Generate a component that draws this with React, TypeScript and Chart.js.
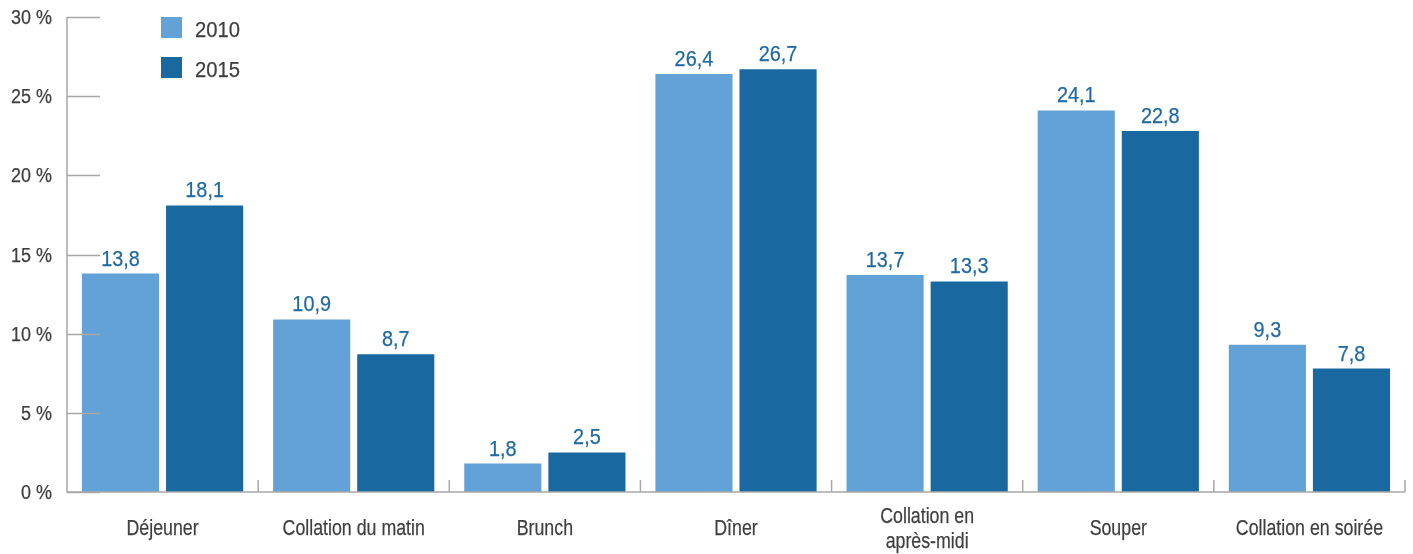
import React, { useEffect, useRef } from "react";
import { Chart, registerables } from "chart.js";

Chart.register(...registerables);

const categories: (string | string[])[] = [
  "Déjeuner",
  "Collation du matin",
  "Brunch",
  "Dîner",
  ["Collation en", "après-midi"],
  "Souper",
  "Collation en soirée",
];
const values2010 = [13.8, 10.9, 1.8, 26.4, 13.7, 24.1, 9.3];
const values2015 = [18.1, 8.7, 2.5, 26.7, 13.3, 22.8, 7.8];
const seriesLabels = ["2010", "2015"];
const yTicks = [0, 5, 10, 15, 20, 25, 30];

const COLOR_2010 = "#63a2d6";
const COLOR_2015 = "#1a68a0";
const AXIS = "#a8a8a8";
const TEXT = "#3f3f3f";
const LABEL_BLUE = "#1f6aa2";
const FONT = "'Liberation Sans', Arial, sans-serif";

function drawText(ctx: any, text: string, x: number, y: number, size: number, sx: number, align: string) {
  ctx.save();
  ctx.font = size + "px " + FONT;
  ctx.textAlign = align;
  ctx.translate(x, y);
  ctx.scale(sx, 1);
  ctx.strokeStyle = ctx.fillStyle;
  ctx.lineWidth = 0.25;
  ctx.lineJoin = "round";
  ctx.fillText(text, 0, 0);
  ctx.strokeText(text, 0, 0);
  ctx.restore();
}

const customPlugin = {
  id: "custom",
  afterDatasetsDraw(chart: any) {
    const ctx = chart.ctx;
    const area = chart.chartArea;
    const xs = chart.scales.x;
    const ys = chart.scales.y;
    ctx.save();
    // axes
    ctx.strokeStyle = AXIS;
    ctx.lineWidth = 1.5;
    ctx.beginPath();
    ctx.moveTo(area.left, area.top);
    ctx.lineTo(area.left, area.bottom);
    ctx.lineTo(area.right, area.bottom);
    ctx.stroke();
    // y tick marks (inside)
    ctx.beginPath();
    yTicks.forEach((v) => {
      const y = Math.round(ys.getPixelForValue(v)) + 0.5;
      ctx.moveTo(area.left, y);
      ctx.lineTo(area.left + 33, y);
    });
    ctx.stroke();
    // x tick marks between categories (upward)
    const step = xs.getPixelForValue(1) - xs.getPixelForValue(0);
    ctx.beginPath();
    for (let i = 0; i < categories.length; i++) {
      const x = xs.getPixelForValue(i) + step / 2;
      ctx.moveTo(x, area.bottom);
      ctx.lineTo(x, area.bottom - 12);
    }
    ctx.stroke();
    // y tick labels
    ctx.fillStyle = TEXT;
    ctx.textBaseline = "alphabetic";
    yTicks.forEach((v) => {
      drawText(ctx, v + " %", area.left - 15, ys.getPixelForValue(v) + 7, 19.5, 0.92, "right");
    });
    // x tick labels
    categories.forEach((c, i) => {
      const x = xs.getPixelForValue(i);
      const lines = Array.isArray(c) ? c : [c];
      const base = lines.length > 1 ? area.bottom + 31 : area.bottom + 42.5;
      lines.forEach((ln, li) => {
        drawText(ctx, ln, x, base + li * 25, 22.5, 0.79, "center");
      });
    });
    // data labels
    ctx.fillStyle = LABEL_BLUE;
    chart.data.datasets.forEach((ds: any, di: number) => {
      const meta = chart.getDatasetMeta(di);
      meta.data.forEach((bar: any, i: number) => {
        const txt = String(ds.data[i]).replace(".", ",");
        drawText(ctx, txt, bar.x, bar.y - 8, 21.6, 0.92, "center");
      });
    });
    // legend
    chart.data.datasets.forEach((ds: any, di: number) => {
      const top = area.top + di * 40;
      ctx.fillStyle = ds.backgroundColor;
      ctx.fillRect(area.left + 94, top, 21, 21);
      ctx.fillStyle = TEXT;
      drawText(ctx, ds.label, area.left + 128, top + 19.5, 22, 0.92, "left");
    });
    ctx.restore();
  },
};

export default function App() {
  const ref = useRef<HTMLCanvasElement>(null);
  useEffect(() => {
    if (!ref.current) return;
    const chart = new Chart(ref.current, {
      type: "bar",
      data: {
        labels: categories,
        datasets: [
          {
            label: seriesLabels[0],
            data: values2010,
            backgroundColor: COLOR_2010,
            categoryPercentage: 0.88,
            barPercentage: 0.917,
          },
          {
            label: seriesLabels[1],
            data: values2015,
            backgroundColor: COLOR_2015,
            categoryPercentage: 0.88,
            barPercentage: 0.917,
          },
        ],
      },
      options: {
        animation: false,
        responsive: false,
        maintainAspectRatio: false,
        layout: { padding: { top: 17, right: 8, left: 0, bottom: 0 } },
        plugins: {
          legend: { display: false },
          tooltip: { enabled: false },
        },
        scales: {
          x: {
            grid: { display: false, drawTicks: false },
            border: { display: false },
            ticks: { display: false },
            afterFit: (s: any) => {
              s.height = 62;
            },
          },
          y: {
            min: 0,
            max: 30,
            grid: { display: false, drawTicks: false },
            border: { display: false },
            ticks: { display: false, stepSize: 5 },
            afterFit: (s: any) => {
              s.width = 67;
            },
          },
        },
      },
      plugins: [customPlugin],
    });
    return () => chart.destroy();
  }, []);
  return (
    <div style={{ position: "fixed", left: 0, top: 0, width: 1413, height: 554, background: "#fff" }}>
      <canvas ref={ref} width={1413} height={554} style={{ display: "block" }} />
    </div>
  );
}
